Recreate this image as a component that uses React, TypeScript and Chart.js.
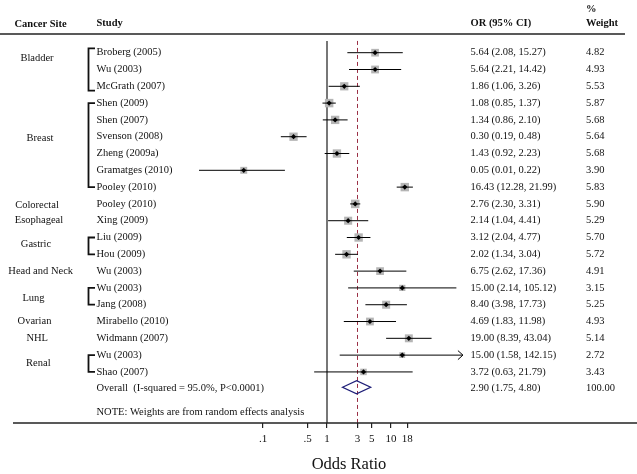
import React, { useEffect, useRef } from "react";
import { Chart, registerables } from "chart.js";

Chart.register(...registerables);

// ---------- data ----------
const studies = [
  "Broberg (2005)", "Wu (2003)", "McGrath (2007)", "Shen (2009)", "Shen (2007)",
  "Svenson (2008)", "Zheng (2009a)", "Gramatges (2010)", "Pooley (2010)", "Pooley (2010)",
  "Xing (2009)", "Liu (2009)", "Hou (2009)", "Wu (2003)", "Wu (2003)",
  "Jang (2008)", "Mirabello (2010)", "Widmann (2007)", "Wu (2003)", "Shao (2007)",
];
const orValues = [5.64, 5.64, 1.86, 1.08, 1.34, 0.30, 1.43, 0.05, 16.43, 2.76, 2.14, 3.12, 2.02, 6.75, 15.0, 8.40, 4.69, 19.0, 15.0, 3.72];
const ciLow = [2.08, 2.21, 1.06, 0.85, 0.86, 0.19, 0.92, 0.01, 12.28, 2.30, 1.04, 2.04, 1.34, 2.62, 2.14, 3.98, 1.83, 8.39, 1.58, 0.63];
const ciHigh = [15.27, 14.42, 3.26, 1.37, 2.10, 0.48, 2.23, 0.22, 21.99, 3.31, 4.41, 4.77, 3.04, 17.36, 105.12, 17.73, 11.98, 43.04, 142.15, 21.79];
const weights = [4.82, 4.93, 5.53, 5.87, 5.68, 5.64, 5.68, 3.90, 5.83, 5.90, 5.29, 5.70, 5.72, 4.91, 3.15, 5.25, 4.93, 5.14, 2.72, 3.43];

const overallLabel = "Overall  (I-squared = 95.0%, P<0.0001)";
const overallOR = 2.90;
const overallLow = 1.75;
const overallHigh = 4.80;
const overallWeight = 100.0;
const noteText = "NOTE: Weights are from random effects analysis";

const siteLabels = ["Bladder", "Breast", "Colorectal", "Esophageal", "Gastric", "Head and Neck", "Lung", "Ovarian", "NHL", "Renal"];
const siteRows = [0.35, 5.1, 9.05, 10, 11.4, 13, 14.6, 16, 17, 18.5];

const bracketFrom = [-0.26, 3, 11, 14, 18];
const bracketTo = [2.26, 8, 12, 15, 19];

const xTickValues = [0.1, 0.5, 1, 3, 5, 10, 18];
const xTickLabels = [".1", ".5", "1", "3", "5", "10", "18"];
const ciDisplayMax = 133;

// ---------- layout ----------
const W = 637;
const H = 474;
const FONT = '"Liberation Serif", "Times New Roman", serif';
const siteCenterX = [37, 40, 37, 39, 36, 40.7, 33.5, 34.5, 37.2, 38.3];
const studyX = 96.5;
const orX = 470.5;
const wtX = 586;

const fmt = (v: number) => v.toFixed(2);

const forestPlugin = {
  id: "forestText",
  beforeDatasetsDraw(chart: any) {
    const { ctx, chartArea, scales } = chart;
    const xs = scales.x;
    const ys = scales.y;
    const top = ys.getPixelForValue(-0.7);
    ctx.save();
    // null line at 1
    const x1 = xs.getPixelForValue(1);
    ctx.strokeStyle = "#555";
    ctx.lineWidth = 1.6;
    ctx.beginPath();
    ctx.moveTo(x1, top);
    ctx.lineTo(x1, chartArea.bottom);
    ctx.stroke();
    // overall dashed line
    const xo = Math.round(xs.getPixelForValue(overallOR)) + 0.5;
    ctx.strokeStyle = "#9a2f45";
    ctx.lineWidth = 1;
    ctx.setLineDash([4, 3]);
    ctx.beginPath();
    ctx.moveTo(xo, top);
    ctx.lineTo(xo, chartArea.bottom);
    ctx.stroke();
    ctx.restore();
  },
  afterDraw(chart: any) {
    const { ctx, chartArea, scales } = chart;
    const xs = scales.x;
    const ys = scales.y;
    ctx.save();
    ctx.fillStyle = "#111";
    ctx.textBaseline = "middle";

    // headers
    ctx.font = `bold 10.5px ${FONT}`;
    ctx.textAlign = "left";
    ctx.fillText("Cancer Site", 14.5, 24);
    ctx.fillText("Study", studyX, 23.5);
    ctx.fillText("OR (95% CI)", orX, 23);
    ctx.fillText("%", wtX, 9);
    ctx.fillText("Weight", wtX, 23);

    // horizontal rules
    ctx.strokeStyle = "#222";
    ctx.lineWidth = 1.3;
    ctx.beginPath();
    ctx.moveTo(0, 34);
    ctx.lineTo(625, 34);
    ctx.stroke();
    ctx.beginPath();
    ctx.moveTo(13, chartArea.bottom);
    ctx.lineTo(W, chartArea.bottom);
    ctx.stroke();

    // site labels
    ctx.font = `10.5px ${FONT}`;
    ctx.textAlign = "center";
    siteLabels.forEach((s, i) => {
      ctx.fillText(s, siteCenterX[i], ys.getPixelForValue(siteRows[i]));
    });

    // brackets
    ctx.strokeStyle = "#111";
    ctx.lineWidth = 1.8;
    bracketFrom.forEach((f, i) => {
      const y0 = ys.getPixelForValue(f);
      const y1 = ys.getPixelForValue(bracketTo[i]);
      ctx.beginPath();
      ctx.moveTo(95, y0);
      ctx.lineTo(88.5, y0);
      ctx.lineTo(88.5, y1);
      ctx.lineTo(95, y1);
      ctx.stroke();
    });

    // study rows
    ctx.textAlign = "left";
    studies.forEach((s, i) => {
      const y = ys.getPixelForValue(i);
      ctx.fillText(s, studyX, y);
      ctx.fillText(`${fmt(orValues[i])} (${fmt(ciLow[i])}, ${fmt(ciHigh[i])})`, orX, y);
      ctx.fillText(fmt(weights[i]), wtX, y);
    });
    const yOv = ys.getPixelForValue(studies.length);
    ctx.fillText(overallLabel, studyX, yOv);
    ctx.fillText(`${fmt(overallOR)} (${fmt(overallLow)}, ${fmt(overallHigh)})`, orX, yOv);
    ctx.fillText(fmt(overallWeight), wtX, yOv);
    ctx.fillText(noteText, studyX, ys.getPixelForValue(studies.length + 1.4));

    // arrows for truncated CIs
    ctx.strokeStyle = "#000";
    ctx.lineWidth = 1;
    ciHigh.forEach((h, i) => {
      if (h > ciDisplayMax) {
        const xa = xs.getPixelForValue(ciDisplayMax);
        const y = ys.getPixelForValue(i);
        ctx.beginPath();
        ctx.moveTo(xa - 5, y - 4.5);
        ctx.lineTo(xa, y);
        ctx.lineTo(xa - 5, y + 4.5);
        ctx.stroke();
      }
    });

    // overall diamond
    const dl = xs.getPixelForValue(overallLow);
    const dr = xs.getPixelForValue(overallHigh);
    const dc = xs.getPixelForValue(overallOR);
    const dy = yOv - 1.5;
    ctx.strokeStyle = "#1f1f78";
    ctx.lineWidth = 1.3;
    ctx.beginPath();
    ctx.moveTo(dl, dy);
    ctx.lineTo(dc, dy - 6.5);
    ctx.lineTo(dr, dy);
    ctx.lineTo(dc, dy + 6.5);
    ctx.closePath();
    ctx.stroke();

    // axis title
    ctx.fillStyle = "#111";
    ctx.font = `16.5px ${FONT}`;
    ctx.textAlign = "center";
    ctx.fillText("Odds Ratio", 349, 465);
    ctx.restore();
  },
};

export default function App() {
  const ref = useRef<HTMLCanvasElement | null>(null);

  useEffect(() => {
    if (!ref.current) return;
    const ciSets = studies.map((_, i) => ({
      type: "line" as const,
      data: [
        { x: ciLow[i], y: i },
        { x: Math.min(ciHigh[i], ciDisplayMax), y: i },
      ],
      borderColor: "#000",
      borderWidth: 1,
      pointRadius: 0,
      showLine: true,
      order: 2,
    }));
    const chart = new Chart(ref.current, {
      type: "scatter",
      data: {
        datasets: [
          {
            data: orValues.map((v, i) => ({ x: v, y: i })),
            pointStyle: "rect",
            pointRadius: weights.map((w) => (3.5 * Math.sqrt(w)) / 1.414),
            backgroundColor: "#b5b5b5",
            borderWidth: 0,
            order: 3,
          },
          ...ciSets,
          {
            data: orValues.map((v, i) => ({ x: v, y: i })),
            pointStyle: "rectRot",
            pointRadius: 2.6,
            backgroundColor: "#000",
            borderWidth: 0,
            order: 1,
          },
        ] as any,
      },
      options: {
        responsive: false,
        devicePixelRatio: 1,
        animation: false,
        events: [],
        layout: { padding: { left: 135, right: 118, top: 34, bottom: 0 } },
        plugins: { legend: { display: false }, tooltip: { enabled: false } },
        scales: {
          x: {
            type: "logarithmic",
            min: 0.001,
            max: 1000,
            afterBuildTicks: (s: any) => {
              s.ticks = xTickValues.map((v) => ({ value: v }));
            },
            afterFit: (s: any) => {
              s.height = 51;
            },
            ticks: {
              autoSkip: false,
              maxRotation: 0,
              padding: 5,
              color: "#111",
              font: { family: FONT, size: 11 },
              callback: (_v: any, idx: number) => xTickLabels[idx],
            },
            grid: {
              display: true,
              drawOnChartArea: false,
              drawTicks: true,
              tickLength: 5,
              color: "#222",
              lineWidth: 1.2,
            },
            border: { display: false },
          },
          y: {
            type: "linear",
            reverse: true,
            min: -1.113,
            max: 22.04,
            display: false,
          },
        },
      } as any,
      plugins: [forestPlugin],
    });
    return () => chart.destroy();
  }, []);

  return (
    <div style={{ position: "fixed", left: 0, top: 0, width: W, height: H, background: "#fff" }}>
      <canvas ref={ref} width={W} height={H} style={{ width: W, height: H, display: "block" }} />
    </div>
  );
}
